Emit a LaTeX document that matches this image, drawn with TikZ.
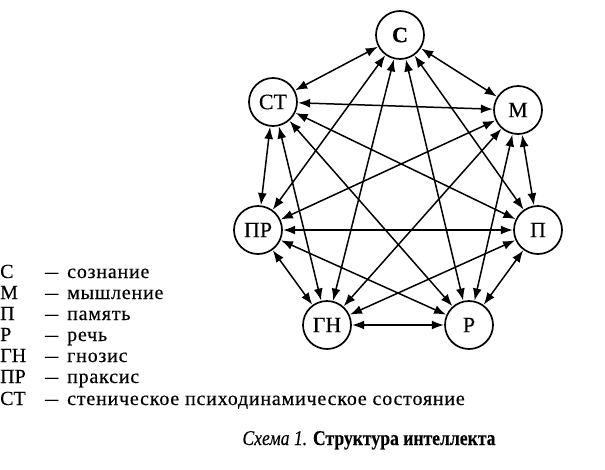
\documentclass[tikz,border=0pt]{standalone}
\usepackage{fontspec}
\setmainfont{Liberation Serif}[FakeBold=0.3]
\newfontfamily\legfont[LetterSpace=4,FakeBold=0.4]{Liberation Serif}
\usetikzlibrary{arrows.meta}
\begin{document}
\begin{tikzpicture}[x=1pt,y=-1pt,
  vert/.style={circle,draw,line width=1.7pt,minimum size=48pt,inner sep=0pt,font=\fontsize{22}{24}\selectfont},
  link/.style={line width=1.5pt,{Latex[length=12pt,width=9pt]}-{Latex[length=12pt,width=9pt]},shorten <=0.3pt,shorten >=0.3pt},
  leg/.style={anchor=base west,inner sep=0pt,font=\fontsize{20}{22}\selectfont}]
\useasboundingbox (0,0) rectangle (605,469);
\node[vert,font=\fontsize{22}{24}\selectfont\bfseries] (C) at (400,35) {С};
\node[vert] (ST) at (273,102) {СТ};
\node[vert] (M) at (518,110) {М};
\node[vert] (PR) at (258,230) {ПР};
\node[vert] (P) at (538,230) {П};
\node[vert] (GN) at (327,325) {ГН};
\node[vert] (R) at (469,325) {Р};
\foreach \a/\b in {C/ST,C/M,C/PR,C/GN,C/R,C/P,
  ST/M,ST/PR,ST/GN,ST/R,ST/P,
  M/PR,M/GN,M/P,M/R,
  PR/P,PR/GN,PR/R,
  P/GN,P/R,
  GN/R}
  \draw[link] (\a) -- (\b);
\foreach \y/\ab/\t [count=\i] in {278/С/сознание,299/М/мышление,320/П/память,341/Р/речь,362/ГН/гнозис,383/ПР/праксис,405/СТ/стеническое психодинамическое состояние}{
  \node[leg] (ab\i) at (0,\y) {\ab};
  \node[leg] (ds\i) at (45,\y) {\scalebox{1.3}[1]{–}};
  \node[leg] (tx\i) at (67,\y) {\legfont\t};
}
\node[anchor=base,inner sep=0pt,font=\fontsize{21}{23}\selectfont] (cap) at (369,445) {\scalebox{0.84}[1]{\textit{Схема 1.} \textbf{Структура интеллекта}}};
\end{tikzpicture}
\end{document}
